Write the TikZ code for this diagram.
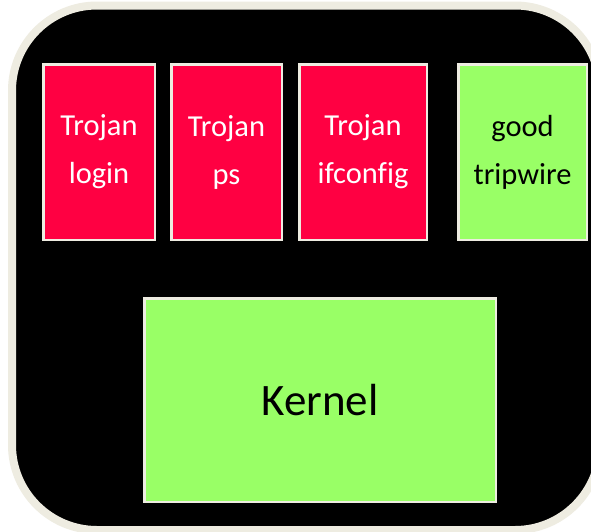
\documentclass[tikz,border=0pt]{standalone}
\usepackage{fontspec}
\setmainfont{Carlito}[Ligatures=CommonOff]
\definecolor{frameBeige}{HTML}{EEECE1}
\definecolor{trojanRed}{HTML}{FF0042}
\definecolor{goodGreen}{HTML}{99FF66}
\tikzset{
  progbox/.style={draw=frameBeige, line width=2.5pt, inner sep=0pt, align=center,
    font=\fontsize{30.5}{48}\selectfont},
  badbox/.style={progbox, fill=trojanRed, text=white},
  goodbox/.style={progbox, fill=goodGreen, text=black},
}
\begin{document}
\begin{tikzpicture}[x=1pt,y=-1pt]
\useasboundingbox (0,0) rectangle (591,531);
\fill[white] (0,0) rectangle (591,531);
\clip (0,0) rectangle (591,531);
\draw[line width=8pt, draw=frameBeige, fill=black, rounded corners=85pt]
  (12,5.5) rectangle (600,530);
\node[badbox, minimum width=111.5pt, minimum height=175.5pt] (login) at (99,152) {Trojan\\login};
\node[badbox, minimum width=110.5pt, minimum height=175.5pt] (ps) at (226.5,152) {Trojan\\ps};
\node[badbox, minimum width=127.5pt, minimum height=175.5pt] (ifconfig) at (363,152) {Trojan\\ifconfig};
\node[goodbox, minimum width=128.5pt, minimum height=175.5pt] (tripwire) at (522.5,152) {good\\tripwire};
\node[goodbox, minimum width=351.5pt, minimum height=203.5pt, font=\fontsize{45}{54}\selectfont] (kernel) at (320,400) {Kernel};
\end{tikzpicture}
\end{document}
